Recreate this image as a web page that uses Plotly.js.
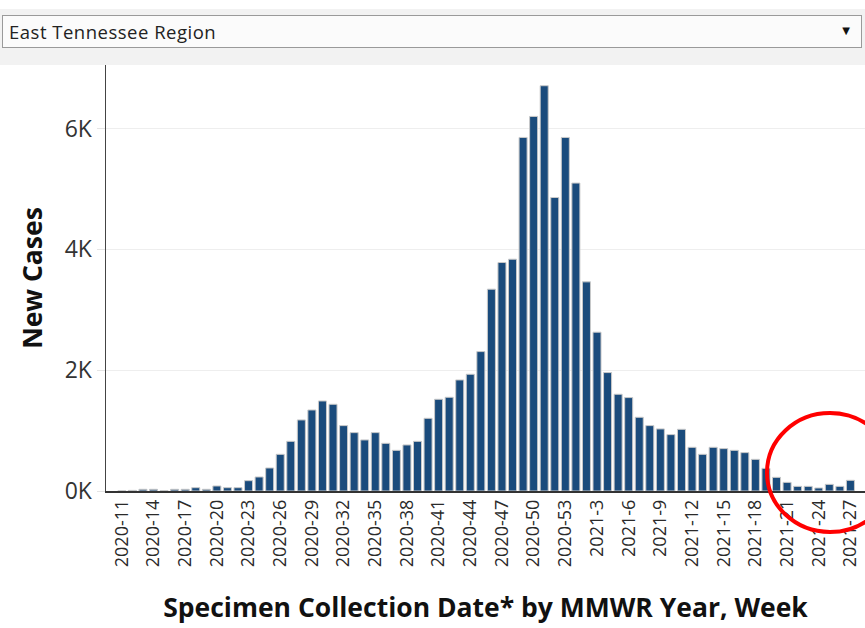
<!DOCTYPE html>
<html>
<head>
<meta charset="utf-8">
<script src="https://cdn.plot.ly/plotly-3.0.1.min.js"></script>
<style>
  html, body { margin: 0; padding: 0; background: #ffffff; }
  #wrap { position: relative; width: 865px; height: 628px; overflow: hidden; }
  #chart { position: absolute; left: 0; top: 0; width: 865px; height: 628px; }
  #header { position: absolute; left: 0; top: 9px; width: 865px; height: 56px; background: #f2f2f2; }
  #dropdown { position: absolute; left: 2px; top: 6px; width: 858px; height: 31px; background: #fbfbfb;
              border: 1px solid #9a9a9a; box-sizing: content-box; }
  #dropdown .label { position: absolute; left: 6px; top: 3px; font-family: "Open Sans", sans-serif;
              font-size: 18.5px; color: #222; letter-spacing: 0.5px; }
  #dropdown .arrow { position: absolute; right: 11px; top: 9px; font-family: "DejaVu Sans", sans-serif;
              font-size: 10px; color: #111; }
</style>
</head>
<body>
<div id="wrap">
  <div id="chart"></div>
  <div id="header">
    <div id="dropdown"><span class="label">East Tennessee Region</span><span class="arrow">▼</span></div>
  </div>
</div>
<script>
const categories = [
  "2020-11","2020-12","2020-13","2020-14","2020-15","2020-16","2020-17","2020-18","2020-19","2020-20",
  "2020-21","2020-22","2020-23","2020-24","2020-25","2020-26","2020-27","2020-28","2020-29","2020-30",
  "2020-31","2020-32","2020-33","2020-34","2020-35","2020-36","2020-37","2020-38","2020-39","2020-40",
  "2020-41","2020-42","2020-43","2020-44","2020-45","2020-46","2020-47","2020-48","2020-49","2020-50",
  "2020-51","2020-52","2020-53","2021-1","2021-2","2021-3","2021-4","2021-5","2021-6","2021-7",
  "2021-8","2021-9","2021-10","2021-11","2021-12","2021-13","2021-14","2021-15","2021-16","2021-17",
  "2021-18","2021-19","2021-20","2021-21","2021-22","2021-23","2021-24","2021-25","2021-26","2021-27"
];
const newCases = [
  2, 10, 28, 28, 5, 28, 28, 55, 28, 83,
  55, 55, 171, 232, 381, 607, 822, 1176, 1341, 1490,
  1435, 1082, 966, 845, 966, 789, 673, 762, 822, 1203,
  1518, 1551, 1838, 1932, 2307, 3340, 3781, 3836, 5851, 6199,
  6707, 4857, 5851, 5096, 3461, 2628, 1960, 1601, 1546, 1220,
  1082, 1027, 933, 1021, 723, 607, 723, 701, 673, 635,
  524, 375, 226, 143, 77, 77, 50, 110, 77, 177
];
const xTickLabels = [
  "2020-11","2020-14","2020-17","2020-20","2020-23","2020-26","2020-29","2020-32","2020-35","2020-38",
  "2020-41","2020-44","2020-47","2020-50","2020-53","2021-3","2021-6","2021-9","2021-12","2021-15",
  "2021-18","2021-21","2021-24","2021-27"
];
const yTickValues = [0, 2000, 4000, 6000];
const yTickLabels = ["0K", "2K", "4K", "6K"];

const trace = {
  type: "bar",
  x: categories,
  y: newCases,
  marker: { color: "#1a4b7c", line: { color: "#c9c9c9", width: 1 } },
  hoverinfo: "x+y"
};

const layout = {
  width: 865, height: 628,
  margin: { l: 106, r: 0, t: 65, b: 137, pad: 0 },
  paper_bgcolor: "#ffffff",
  plot_bgcolor: "#ffffff",
  bargap: 0.24,
  showlegend: false,
  font: { family: "Open Sans, sans-serif", color: "#333" },
  xaxis: {
    type: "category",
    range: [-1.5, 70.38],
    tickmode: "array",
    tickvals: xTickLabels,
    ticktext: xTickLabels,
    tickangle: -90,
    tickfont: { family: "Open Sans, sans-serif", size: 18, color: "#2a2a2a" },
    ticks: "",
    showgrid: false,
    showline: true,
    linecolor: "#333",
    linewidth: 1.5,
    automargin: false,
    title: {
      text: "Specimen Collection Date* by MMWR Year, Week",
      font: { family: "Open Sans, sans-serif", size: 26.5, color: "#111", weight: 700 },
      standoff: 32
    }
  },
  yaxis: {
    range: [0, 7050],
    tickmode: "array",
    tickvals: yTickValues,
    ticktext: yTickLabels,
    tickfont: { family: "Open Sans, sans-serif", size: 23, color: "#333" },
    ticks: "outside",
    ticklen: 8,
    tickcolor: "#e4e4e4",
    showgrid: true,
    gridcolor: "#eeeeee",
    gridwidth: 1,
    zeroline: false,
    showline: true,
    linecolor: "#444",
    linewidth: 1.5,
    automargin: false,
    title: {
      text: "New Cases",
      font: { family: "Open Sans, sans-serif", size: 26.5, color: "#111", weight: 700 },
      standoff: 14
    }
  },
  shapes: [{
    type: "circle",
    xref: "paper", yref: "paper",
    x0: (767 - 106) / 759, x1: (893 - 106) / 759,
    y0: (491 - 532) / 426, y1: (491 - 413) / 426,
    line: { color: "#ff0000", width: 4 },
    fillcolor: "rgba(0,0,0,0)",
    layer: "above"
  }]
};

Plotly.newPlot("chart", [trace], layout, { displayModeBar: false, staticPlot: true });
</script>
</body>
</html>
